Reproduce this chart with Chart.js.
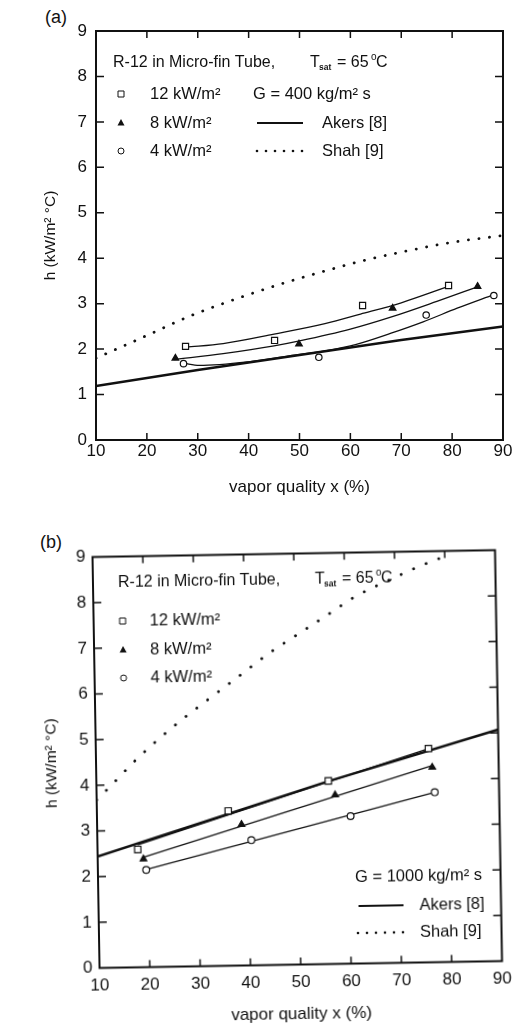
<!DOCTYPE html>
<html>
<head>
<meta charset="utf-8">
<script src="https://cdn.jsdelivr.net/npm/chart.js@4.4.0/dist/chart.umd.min.js"></script>
<style>
  body { margin: 0; background: #fff; width: 516px; height: 1027px; position: relative; overflow: hidden;
         font-family: "Liberation Sans", Arial, sans-serif; color: #111; }
  .tag { position: absolute; font-size: 18px; line-height: 22px; }
  #wa { position: absolute; left: 0; top: 0; width: 516px; height: 505px; }
  #wb { position: absolute; left: 0; top: 505px; width: 516px; height: 522px;
        transform: rotate(-0.98deg); transform-origin: 300px 254px; }
</style>
</head>
<body>
<div class="tag" style="left:45px;top:6px">(a)</div>
<div class="tag" style="left:40px;top:531px">(b)</div>
<div id="wa"><canvas id="ca" width="516" height="505"></canvas></div>
<div id="wb"><canvas id="cb" width="516" height="522"></canvas></div>
<script>
// heat flux series labels
const fluxLabels = ['12 kW/m²', '8 kW/m²', '4 kW/m²'];
const xTicks = [10, 20, 30, 40, 50, 60, 70, 80, 90];
const yTicks = [0, 1, 2, 3, 4, 5, 6, 7, 8, 9];

// (a) G = 400 kg/m2 s  -- [vapor quality %, h kW/m2C]
const a12 = [[27.6, 2.06], [45.1, 2.19], [62.4, 2.96], [79.3, 3.40]];
const a8  = [[25.6, 1.80], [49.9, 2.11], [68.3, 2.90], [85.0, 3.38]];
const a4  = [[27.2, 1.68], [53.8, 1.82], [74.9, 2.75], [88.2, 3.18]];
const a12fit = [[27.7, 2.04], [35, 2.12], [45, 2.33], [55, 2.56], [62, 2.77], [70, 3.02], [79.3, 3.38]];
const a8fit  = [[25.4, 1.77], [35, 1.90], [45, 2.07], [50, 2.18], [60, 2.44], [68.4, 2.72], [77, 3.05], [85, 3.37]];
const a4fit  = [[27.2, 1.69], [30.3, 1.64], [40, 1.72], [48, 1.85], [55, 1.96], [61, 2.10], [68, 2.35], [74.3, 2.60], [81, 2.90], [88.2, 3.20]];
const aAkers = [[10, 1.19], [30, 1.54], [50, 1.87], [70, 2.20], [90, 2.50]];
const aShah  = [[10, 1.80], [20, 2.30], [28.3, 2.72], [40, 3.20], [48, 3.49], [56, 3.75], [63, 3.96], [72, 4.18], [80, 4.35], [90, 4.50]];

// (b) G = 1000 kg/m2 s
const b12 = [[18.0, 2.58], [36.1, 3.39], [56.1, 4.01], [76.1, 4.68]];
const b8  = [[19.1, 2.37], [38.7, 3.09], [57.4, 3.70], [76.8, 4.27]];
const b4  = [[19.6, 2.13], [40.6, 2.74], [60.4, 3.23], [77.2, 3.72]];
const b12fit = [[18.0, 2.68], [76.1, 4.68]];
const b8fit  = [[18.9, 2.40], [76.6, 4.30]];
const b4fit  = [[19.6, 2.14], [77.2, 3.72]];
const bAkers = [[10, 2.44], [56, 4.00], [90, 5.07]];
const bShah  = [[10, 3.68], [12, 3.89], [18.3, 4.58], [25.3, 5.24], [31.9, 5.79], [38.5, 6.32], [44.8, 6.83],
                [50.8, 7.25], [57, 7.68], [62, 8.03], [70.2, 8.45], [75.5, 8.70], [80, 8.88]];

const INK = '#111';
const FAM = '"Liberation Sans", Arial, sans-serif';
const pts = arr => arr.map(([x, y]) => ({x, y}));

function curve(data, width, dash, smooth) {
  return {
    data: pts(data), showLine: true, borderColor: INK, borderWidth: width,
    borderDash: dash || [], borderCapStyle: dash ? 'round' : 'butt',
    pointRadius: 0, pointHoverRadius: 0,
    tension: smooth ? 0.4 : 0, cubicInterpolationMode: smooth ? 'monotone' : 'default', order: 2
  };
}
function marks(data, style, r, filled) {
  return {
    data: pts(data), showLine: false, pointStyle: style, pointRadius: r, pointHoverRadius: r,
    pointBorderWidth: 1.2, pointBorderColor: INK, pointBackgroundColor: filled ? INK : '#fff', order: 1
  };
}

function axes(p) {
  return {
    x: {
      type: 'linear', min: 10, max: 90,
      afterBuildTicks: s => { s.ticks = xTicks.map(v => ({value: v})); },
      ticks: {padding: p.xPad, color: INK, font: {size: 17, family: FAM}},
      grid: {display: false, drawTicks: false}, border: {display: false},
      title: {display: true, text: 'vapor quality x (%)', color: INK, font: {size: 17, family: FAM},
              padding: {top: 0, bottom: p.xTitle}},
      afterFit: s => { s.height = p.xH; }
    },
    y: {
      type: 'linear', min: 0, max: 9,
      afterBuildTicks: s => { s.ticks = yTicks.map(v => ({value: v})); },
      ticks: {padding: p.yPad, color: INK, font: {size: 17, family: FAM}},
      grid: {display: false, drawTicks: false}, border: {display: false},
      title: {display: true, text: 'h (kW/m² °C)', color: INK, font: {size: 15.5, family: FAM},
              padding: {top: p.yTitle, bottom: 0}},
      afterFit: s => { s.width = 96; }
    }
  };
}

// frame + inward ticks on all four sides
const frame = {
  id: 'frame',
  afterDatasetsDraw(chart) {
    const {ctx, chartArea: a, scales: {x, y}} = chart;
    ctx.save();
    ctx.strokeStyle = INK;
    ctx.lineWidth = 1.5;
    ctx.beginPath();
    x.ticks.forEach(t => {
      if (t.value <= x.min || t.value >= x.max) return;
      const px = x.getPixelForValue(t.value);
      ctx.moveTo(px, a.bottom); ctx.lineTo(px, a.bottom - 7);
      ctx.moveTo(px, a.top); ctx.lineTo(px, a.top + 7);
    });
    y.ticks.forEach(t => {
      if (t.value <= y.min || t.value >= y.max) return;
      const py = y.getPixelForValue(t.value);
      ctx.moveTo(a.left, py); ctx.lineTo(a.left + 8, py);
      ctx.moveTo(a.right, py); ctx.lineTo(a.right - 8, py);
    });
    ctx.stroke();
    ctx.lineWidth = 2;
    ctx.strokeRect(a.left, a.top, a.right - a.left, a.bottom - a.top);
    ctx.restore();
  }
};

function txt(ctx, s, x, y, size, extra) {
  ctx.font = (extra || '') + size + 'px ' + FAM;
  ctx.fillText(s, x, y);
}
function mark(ctx, kind, x, y) {
  ctx.lineWidth = 1;
  ctx.beginPath();
  if (kind === 'sq') { ctx.rect(x - 3, y - 3, 6, 6); ctx.stroke(); }
  else if (kind === 'tri') { ctx.moveTo(x, y - 4); ctx.lineTo(x + 3.5, y + 2.5); ctx.lineTo(x - 3.5, y + 2.5); ctx.closePath(); ctx.fill(); }
  else { ctx.arc(x, y, 3, 0, Math.PI * 2); ctx.stroke(); }
}
function sample(ctx, x1, x2, y, dotted) {
  if (dotted) {
    for (let x = x1; x <= x2 + 0.1; x += 9) { ctx.beginPath(); ctx.arc(x, y, 1.3, 0, Math.PI * 2); ctx.fill(); }
  } else {
    ctx.lineWidth = 2.2;
    ctx.beginPath(); ctx.moveTo(x1, y); ctx.lineTo(x2, y); ctx.stroke();
  }
}
function heading(ctx, x, y) {
  txt(ctx, 'R-12 in Micro-fin Tube,', x, y, 16);
  txt(ctx, 'T', x + 197, y, 16);
  txt(ctx, 'sat', x + 206, y + 5, 8.5, 'bold ');
  txt(ctx, '= 65', x + 224, y, 16);
  txt(ctx, 'o', x + 258, y - 6, 10);
  txt(ctx, 'C', x + 263, y, 16);
}
function fluxRows(ctx, mx, tx, rows) {
  ['sq', 'tri', 'ci'].forEach((k, i) => {
    mark(ctx, k, mx, rows[i]);
    txt(ctx, fluxLabels[i], tx, rows[i], 16.5);
  });
}
function begin(ctx) {
  ctx.save();
  ctx.fillStyle = INK; ctx.strokeStyle = INK;
  ctx.textAlign = 'left'; ctx.textBaseline = 'middle';
}

const notesA = {
  id: 'notesA',
  afterDraw(chart) {
    const ctx = chart.ctx;
    begin(ctx);
    heading(ctx, 113, 63);
    const rows = [94, 123, 151];
    fluxRows(ctx, 121, 150, rows);
    txt(ctx, 'G = 400 kg/m² s', 253, rows[0], 16.5);
    sample(ctx, 257, 303, rows[1], false); txt(ctx, 'Akers [8]', 322, rows[1], 16.5);
    sample(ctx, 257, 303, rows[2], true);  txt(ctx, 'Shah [9]', 322, rows[2], 16.5);
    ctx.restore();
  }
};
const notesB = {
  id: 'notesB',
  afterDraw(chart) {
    const ctx = chart.ctx;
    begin(ctx);
    heading(ctx, 121, 75);
    fluxRows(ctx, 125, 152, [113, 142, 170]);
    txt(ctx, 'G = 1000 kg/m² s', 353, 373, 16.5);
    sample(ctx, 356, 401, 402, false); txt(ctx, 'Akers [8]', 417, 402, 16.5);
    sample(ctx, 355, 400, 429, true);  txt(ctx, 'Shah [9]', 417, 429, 16.5);
    ctx.restore();
  }
};

function makeChart(id, sets, p, notes) {
  return new Chart(document.getElementById(id), {
    type: 'scatter',
    data: {datasets: sets},
    options: {
      responsive: false, animation: false,
      layout: {padding: {top: p.top, right: p.right, left: 0, bottom: 0}},
      plugins: {legend: {display: false}, tooltip: {enabled: false}},
      scales: axes(p)
    },
    plugins: [frame, notes]
  });
}

makeChart('ca', [
  curve(aAkers, 2.5), curve(aShah, 2.8, [0.1, 10.5], true),
  curve(a12fit, 1.3, null, true), curve(a8fit, 1.3, null, true), curve(a4fit, 1.3, null, true),
  marks(a12, 'rect', 4.3, false), marks(a8, 'triangle', 3.8, true), marks(a4, 'circle', 3.2, false)
], {top: 31, right: 13, xH: 65, xPad: 1, xTitle: 7, yPad: 9, yTitle: 41}, notesA);

makeChart('cb', [
  curve(bAkers, 2.5), curve(bShah, 2.8, [0.1, 13.5], true),
  curve(b12fit, 1.3), curve(b8fit, 1.3), curve(b4fit, 1.3),
  marks(b12, 'rect', 4.5, false), marks(b8, 'triangle', 3.8, true), marks(b4, 'circle', 3.4, false)
], {top: 48.5, right: 12, xH: 62.5, xPad: 8, xTitle: 2, yPad: 7, yTitle: 42}, notesB);
</script>
</body>
</html>
